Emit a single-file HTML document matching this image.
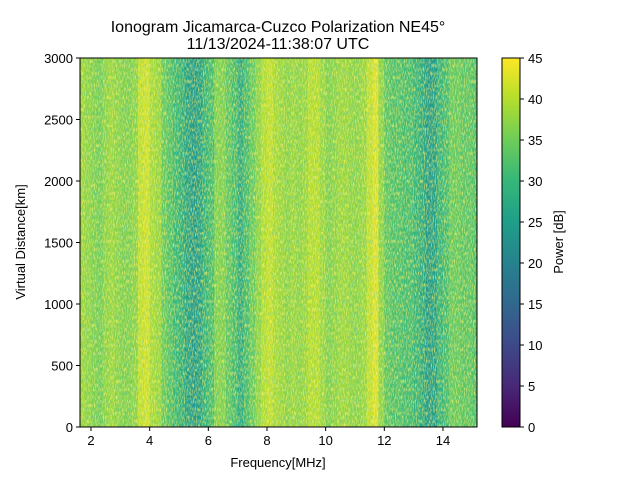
<!DOCTYPE html>
<html><head><meta charset="utf-8"><style>
body{margin:0;background:#fff;font-family:"Liberation Sans",sans-serif;}
svg text{font-family:"Liberation Sans","DejaVu Sans",sans-serif;fill:#000;}
</style></head><body>
<svg id="chart" width="640" height="480" viewBox="0 0 640 480" xmlns="http://www.w3.org/2000/svg">
<defs>
<filter id="noise" x="0" y="0" width="100%" height="100%">
<feTurbulence type="fractalNoise" baseFrequency="0.9 0.25" numOctaves="2" seed="3"/>
<feColorMatrix type="matrix" values="0 0 0 0 0.13  0 0 0 0 0.55  0 0 0 0 0.55  0 0 0 2.6 -1.2"/>
</filter>
<filter id="noise2" x="0" y="0" width="100%" height="100%">
<feTurbulence type="fractalNoise" baseFrequency="0.9 0.25" numOctaves="2" seed="11"/>
<feColorMatrix type="matrix" values="0 0 0 0 0.99  0 0 0 0 0.91  0 0 0 0 0.15  0 0 0 2.6 -1.1"/>
</filter>
<linearGradient id="cbar" x1="0" y1="1" x2="0" y2="0"></linearGradient>
</defs>
<text x="278" y="32" font-size="16" text-anchor="middle">Ionogram Jicamarca-Cuzco Polarization NE45°</text>
<text x="278" y="49" font-size="16" text-anchor="middle">11/13/2024-11:38:07 UTC</text>
<g id="heat"></g>
<rect x="80" y="58" width="397" height="369" filter="url(#noise)" opacity="0.55"/>
<rect x="80" y="58" width="397" height="369" filter="url(#noise2)" opacity="0.75"/>
<rect x="80" y="58" width="397" height="369" fill="none" stroke="#000" stroke-width="1"/>
<g id="axes"></g>
<text x="278" y="467" font-size="13" text-anchor="middle">Frequency[MHz]</text>
<text transform="translate(25,242) rotate(-90)" font-size="13" text-anchor="middle">Virtual Distance[km]</text>
<rect x="502" y="58" width="18" height="369" fill="url(#cbar)" stroke="#000" stroke-width="1"/>
<text transform="translate(563,242) rotate(-90)" font-size="13" text-anchor="middle">Power [dB]</text>
</svg>
<script>
const freqStart = 1.6, freqStep = 0.2;
const columnPower = [38,37, 36,35,37, 38,37, 36,36,37, 41,42, 39,38, 34,32, 30,28, 25,24,25, 29,31, 36,36, 33,31, 27,31, 34,37, 40,41,39, 38,37,38, 37,38,40, 40,38, 36,37,38, 38,37, 37,38,41, 43,37, 33,32, 32,31,31, 29,27, 24,25, 29,31, 34,34, 33,33,32];
const xTicks = [2,4,6,8,10,12,14];
const yTicks = [0,500,1000,1500,2000,2500,3000];
const cTicks = [0,5,10,15,20,25,30,35,40,45];

const NS="http://www.w3.org/2000/svg";
const X0=80,X1=477,Y0=58,Y1=427,F0=1.625,F1=15.16,D0=0,D1=3000;
const xs=f=>X0+(f-F0)/(F1-F0)*(X1-X0);
const ys=d=>Y1-(d-D0)/(D1-D0)*(Y1-Y0);
const cs=p=>427-p/45*369;
const vir=[[68,1,84],[72,40,120],[62,73,137],[49,104,142],[38,130,142],[31,158,137],[53,183,121],[109,205,89],[180,222,44],[253,231,37]];
function viridis(t){t=Math.max(0,Math.min(1,t))*(vir.length-1);const i=Math.min(Math.floor(t),vir.length-2),f=t-i;const c=vir[i].map((v,k)=>Math.round(v+(vir[i+1][k]-v)*f));return `rgb(${c.join(',')})`;}
function el(tag,attrs,parent){const e=document.createElementNS(NS,tag);for(const k in attrs)e.setAttribute(k,attrs[k]);parent.appendChild(e);return e;}
const heat=document.getElementById('heat');
columnPower.forEach((p,i)=>{
  const f0=freqStart+i*freqStep, f1=f0+freqStep;
  const a=Math.max(X0,xs(f0)), b=Math.min(X1,xs(f1));
  const r=el('rect',{x:a,y:Y0,width:b-a+0.5,height:Y1-Y0,fill:viridis(p/45)},heat);
  
  
});
const grad=document.getElementById('cbar');
for(let i=0;i<=9;i++){el('stop',{offset:(i/9*100)+'%','stop-color':viridis(i/9)},grad);}
const axes=document.getElementById('axes');
xTicks.forEach(v=>{
  const x=xs(v);
  const t=el('line',{x1:x,x2:x,y1:Y1,y2:Y1+4,stroke:'#000'},axes);
  
  
  const l=el('text',{x:x,y:Y1+18,'font-size':13,'text-anchor':'middle'},axes);l.textContent=v;
  
  
});
yTicks.forEach(v=>{
  const y=ys(v);
  const t=el('line',{x1:X0-4,x2:X0,y1:y,y2:y,stroke:'#000'},axes);
  
  
  const l=el('text',{x:X0-7,y:y+5,'font-size':13,'text-anchor':'end'},axes);l.textContent=v;
  
  
});
cTicks.forEach(v=>{
  const y=cs(v);
  const t=el('line',{x1:520,x2:524,y1:y,y2:y,stroke:'#000'},axes);
  
  
  const l=el('text',{x:528,y:y+5,'font-size':13},axes);l.textContent=v;
  
  
});
</script>
</body></html>
